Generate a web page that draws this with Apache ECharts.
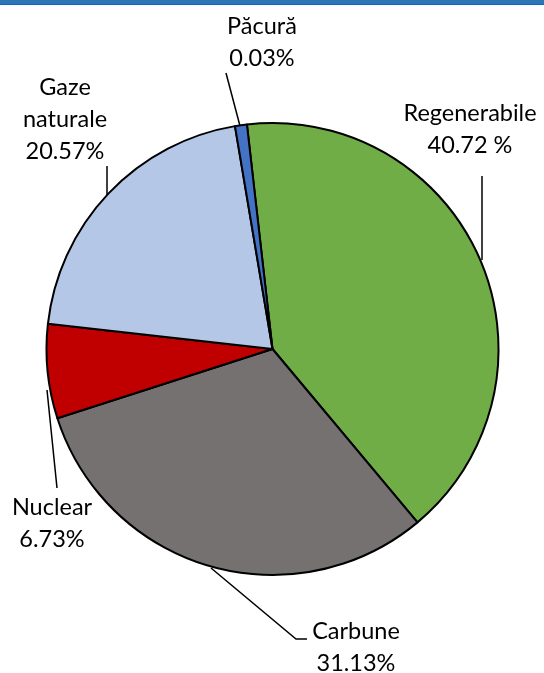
<!DOCTYPE html>
<html>
<head>
<meta charset="utf-8">
<script src="https://cdn.jsdelivr.net/npm/echarts@6/dist/echarts.min.js"></script>
<style>
html,body{margin:0;padding:0;background:#fff;}
#chart{width:544px;height:673px;}
</style>
</head>
<body>
<div id="chart"></div>
<script>
// Data
const categories = ['Regenerabile', 'Carbune', 'Nuclear', 'Gaze naturale', 'Păcură'];
const values = [40.72, 31.13, 6.73, 20.57, 0.85];
const pctLabels = ['40.72 %', '31.13%', '6.73%', '20.57%', '0.03%'];
const displayNames = ['Regenerabile', 'Carbune', 'Nuclear', 'Gaze\nnaturale', 'Păcură'];
const colors = ['#70AD47', '#767171', '#C00000', '#B4C7E7', '#4472C4'];

// Label placement (layout only)
const labelLayoutSpec = [
  { x: 470, y: 129, line: [[482, 176], [482, 260]] },
  { x: 356, y: 647, line: [[307, 639], [296, 639], [211, 568]] },
  { x: 52, y: 523, line: [[57, 488], [47, 390]] },
  { x: 65, y: 119, line: [[107, 166], [107, 195]] },
  { x: 262, y: 42, line: [[226, 73], [240, 126]] }
];

const chart = echarts.init(document.getElementById('chart'), null, { renderer: 'canvas' });
chart.setOption({
  animation: false,
  backgroundColor: '#fff',
  graphic: [
    { type: 'rect', left: 0, top: 0, shape: { width: 544, height: 4 }, style: { fill: '#2E75B6' } },
    { type: 'rect', left: 0, top: 4, shape: { width: 544, height: 1 }, style: { fill: '#0070C0' } }
  ],
  series: [{
    type: 'pie',
    center: [272.5, 349],
    radius: 226,
    startAngle: 96.5,
    clockwise: true,
    avoidLabelOverlap: false,
    itemStyle: { borderColor: '#000', borderWidth: 2 },
    label: {
      show: true,
      position: 'outside',
      fontFamily: 'Lato',
      fontSize: 23.5,
      lineHeight: 32,
      color: '#000',
      align: 'center',
      formatter: function (p) {
        return displayNames[p.dataIndex] + '\n' + pctLabels[p.dataIndex];
      }
    },
    labelLine: { show: true, lineStyle: { color: '#000', width: 1.5 } },
    labelLayout: function (params) {
      const s = labelLayoutSpec[params.dataIndex];
      return {
        x: s.x, y: s.y, align: 'center', verticalAlign: 'middle',
        labelLinePoints: s.line
      };
    },
    data: categories.map(function (c, i) {
      return { name: c, value: values[i], itemStyle: { color: colors[i] } };
    })
  }]
});
</script>
</body>
</html>
